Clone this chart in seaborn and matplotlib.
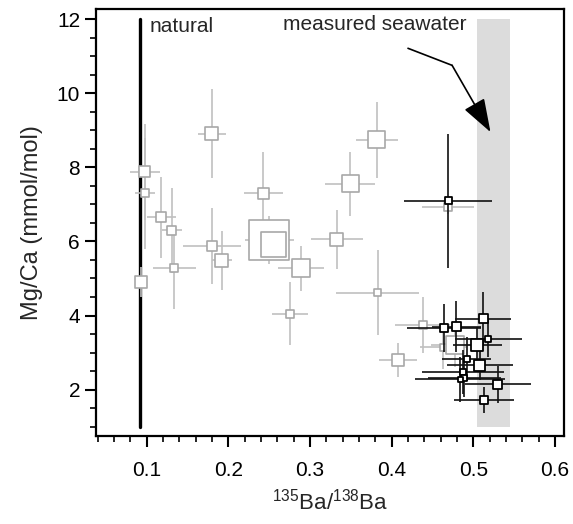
import numpy as np
import pandas as pd
import seaborn as sns
import matplotlib.pyplot as plt
from matplotlib.ticker import MultipleLocator

# grey (older) samples: x, y, x error, y error, marker size in px
grey_x = [0.098, 0.098, 0.118, 0.131, 0.134, 0.093, 0.180, 0.243, 0.250, 0.255,
          0.180, 0.192, 0.382, 0.349, 0.333, 0.289, 0.276, 0.383, 0.408, 0.438,
          0.463, 0.478, 0.469]
grey_y = [7.88, 7.30, 6.65, 6.30, 5.27, 4.90, 8.90, 7.30, 6.03, 5.92,
          5.87, 5.49, 8.74, 7.55, 6.06, 5.27, 4.05, 4.62, 2.80, 3.75,
          3.15, 3.20, 6.93]
grey_xerr = [0.018, 0.012, 0.018, 0.012, 0.026, 0.0, 0.017, 0.024, 0.030, 0.0,
             0.035, 0.012, 0.026, 0.030, 0.032, 0.028, 0.022, 0.051, 0.023, 0.034,
             0.028, 0.030, 0.032]
grey_yerr = [1.30, 1.50, 1.10, 1.15, 1.10, 0.40, 1.20, 1.10, 0.65, 0.0,
             1.03, 0.80, 1.02, 0.87, 0.80, 0.60, 0.85, 1.14, 0.45, 0.75,
             0.60, 0.60, 0.20]
grey_size = [11, 8, 10, 9, 8, 12, 13, 11, 40, 25,
             10, 13, 17, 17, 13, 18, 8, 7, 12, 8,
             7, 18, 8]

# black (new) samples
black_x = [0.469, 0.512, 0.464, 0.479, 0.518, 0.505, 0.492, 0.508, 0.487, 0.489,
           0.484, 0.530, 0.513]
black_y = [7.09, 3.91, 3.67, 3.70, 3.37, 3.20, 2.83, 2.66, 2.47, 2.31,
           2.28, 2.15, 1.72]
black_xerr = [0.054, 0.034, 0.045, 0.030, 0.041, 0.030, 0.030, 0.040, 0.050, 0.045,
              0.055, 0.040, 0.037]
black_yerr = [1.82, 0.73, 0.65, 0.68, 0.50, 0.50, 0.60, 0.40, 0.60, 0.50,
              0.60, 0.50, 0.35]
black_size = [7, 9, 8, 9, 6, 12, 6, 11, 6, 6, 5, 9, 8]

natural_ratio = 0.092
seawater_band = (0.505, 0.545)

sns.set_style("ticks")
plt.rcParams['font.family'] = ['Liberation Sans', 'DejaVu Sans']
plt.rcParams['mathtext.fontset'] = 'custom'
plt.rcParams['mathtext.rm'] = 'Liberation Sans'

fig = plt.figure(figsize=(5.73, 5.24), dpi=100)
ax = fig.add_axes([0.1675, 0.168, 0.8168, 0.8148])

# seawater band and natural line
ax.fill_betweenx([1, 12], seawater_band[0], seawater_band[1], color='#dcdcdc', lw=0, zorder=0)
ax.plot([natural_ratio, natural_ratio], [1, 12], color='black', lw=2.4, zorder=1)

grey = pd.DataFrame({'x': grey_x, 'y': grey_y, 'size': grey_size})
black = pd.DataFrame({'x': black_x, 'y': black_y, 'size': black_size})

def area(px):
    return (px * 0.72) ** 2

ax.errorbar(grey_x, grey_y, xerr=grey_xerr, yerr=grey_yerr, fmt='none',
            ecolor='#c0c0c0', elinewidth=1.2, capsize=0, zorder=2)
sns.scatterplot(data=grey, x='x', y='y', size='size',
                sizes={v: area(v) for v in set(grey_size)}, marker='s',
                color='white', edgecolor='#a8a8a8', linewidth=1.2,
                legend=False, ax=ax, zorder=3)

ax.errorbar(black_x, black_y, xerr=black_xerr, yerr=black_yerr, fmt='none',
            ecolor='#111111', elinewidth=1.2, capsize=0, zorder=4)
sns.scatterplot(data=black, x='x', y='y', size='size',
                sizes={v: area(v) for v in set(black_size)}, marker='s',
                color='white', edgecolor='black', linewidth=1.3,
                legend=False, ax=ax, zorder=5)

# labels and arrow
ax.text(0.104, 11.8, 'natural', fontsize=15, va='center', ha='left')
ax.text(0.267, 11.84, 'measured seawater', fontsize=15, va='center', ha='left')
ax.plot([0.42, 0.474], [11.21, 10.75], color='black', lw=1.2)
ax.annotate('', xy=(0.521, 8.95), xytext=(0.474, 10.75),
            arrowprops=dict(arrowstyle='-|>,head_length=1.3,head_width=0.45',
                            mutation_scale=16, lw=1.2, color='black',
                            shrinkA=0, shrinkB=0))

ax.set_xlim(0.038, 0.611)
ax.set_ylim(0.75, 12.27)
ax.xaxis.set_major_locator(MultipleLocator(0.1))
ax.xaxis.set_minor_locator(MultipleLocator(0.02))
ax.yaxis.set_major_locator(MultipleLocator(2))
ax.yaxis.set_minor_locator(MultipleLocator(0.5))
ax.tick_params(which='major', direction='out', length=8, width=1.5, labelsize=15,
               color='black', labelcolor='black')
ax.tick_params(axis='x', which='major', pad=10)
ax.tick_params(which='minor', direction='out', length=4, width=1.2, color='black')
for s in ax.spines.values():
    s.set_linewidth(1.6)
    s.set_color('black')

ax.set_xlabel(r'$^{135}$Ba/$^{138}$Ba', fontsize=16, labelpad=6)
ax.set_ylabel('Mg/Ca (mmol/mol)', fontsize=17, labelpad=10)

plt.savefig('out.png', dpi=100)
plt.close()
